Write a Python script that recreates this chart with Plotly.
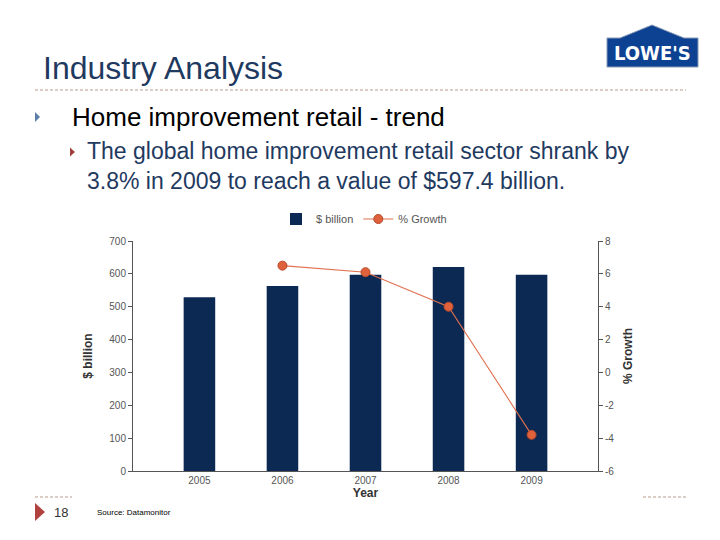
import plotly.graph_objects as go

years = ["2005", "2006", "2007", "2008", "2009"]
value_bn = [528.6, 562.9, 597.3, 621.0, 597.4]
growth_years = ["2006", "2007", "2008", "2009"]
growth_pct = [6.5, 6.1, 4.0, -3.8]
left_ticks = [0, 100, 200, 300, 400, 500, 600, 700]
right_ticks = [-6, -4, -2, 0, 2, 4, 6, 8]
right_labels = [str(v) for v in right_ticks]

OFF = 8  # page body margin
W, H = 720 - OFF, 540 - OFF
ML, MR, MT, MB = 133 - OFF, 122, 241 - OFF, 69
PW, PH = W - ML - MR, H - MT - MB

def px(x):
    return (x - OFF - ML) / PW

def py(y):
    return 1 - (y - OFF - MT) / PH

FONT = "Arial, Liberation Sans, sans-serif"

fig = go.Figure()
fig.add_trace(go.Bar(
    x=years, y=value_bn, name="$ billion", width=0.38,
    marker=dict(color="#0b2953", line=dict(width=0)),
    yaxis="y",
))
fig.add_trace(go.Scatter(
    x=growth_years, y=growth_pct, name="% Growth", mode="lines+markers",
    line=dict(color="#e0714f", width=1.1),
    marker=dict(size=9, color="#e0623c", line=dict(color="#b5482a", width=1)),
    yaxis="y2",
))

axis_common = dict(showgrid=False, zeroline=False, showline=True, linecolor="#555555",
                   linewidth=1, ticks="outside", ticklen=4, tickcolor="#555555",
                   tickfont=dict(family=FONT, size=10, color="#555555"))

fig.update_layout(
    width=W, height=H,
    margin=dict(l=ML, r=MR, t=MT, b=MB),
    paper_bgcolor="white", plot_bgcolor="white",
    showlegend=True,
    legend=dict(orientation="h", x=px(364), xanchor="center", y=py(219), yanchor="middle",
                font=dict(family=FONT, size=11, color="#555555"), bgcolor="rgba(0,0,0,0)",
                itemwidth=30, tracegroupgap=0),
    xaxis=dict(type="category", range=[-0.8, 4.8], showgrid=False, zeroline=False,
               showline=True, linecolor="#555555", ticks="",
               tickfont=dict(family=FONT, size=10, color="#555555"),
               title=dict(text="<b>Year</b>", standoff=2,
                          font=dict(family=FONT, size=12, color="#333333"))),
    yaxis=dict(range=[0, 700], tickvals=left_ticks, **axis_common,
               title=dict(text="<b>$ billion</b>", standoff=14,
                          font=dict(family=FONT, size=12, color="#333333"))),
    yaxis2=dict(range=[-6, 8], tickvals=right_ticks, ticktext=right_labels,
                overlaying="y", side="right", **axis_common,
                title=dict(text="<b>% Growth</b>", standoff=10,
                           font=dict(family=FONT, size=12, color="#333333"))),
)

shapes = []
DASH = dict(color="#b89a8c", width=1, dash="3px,2px")
shapes.append(dict(type="line", xref="paper", yref="paper", x0=px(35), x1=px(686),
                   y0=py(90), y1=py(90), line=DASH))
shapes.append(dict(type="line", xref="paper", yref="paper", x0=px(35), x1=px(72),
                   y0=py(497), y1=py(497), line=DASH))
shapes.append(dict(type="line", xref="paper", yref="paper", x0=px(643), x1=px(686),
                   y0=py(497), y1=py(497), line=DASH))

def tri(x0, ycen, w, h, color):
    path = "M {} {} L {} {} L {} {} Z".format(px(x0), py(ycen - h / 2), px(x0 + w), py(ycen),
                                             px(x0), py(ycen + h / 2))
    return dict(type="path", xref="paper", yref="paper", path=path,
                fillcolor=color, line=dict(width=0))

shapes.append(tri(35, 117, 5, 10, "#5b7fa8"))
shapes.append(tri(70, 152, 5, 9, "#a2423f"))
shapes.append(tri(35, 512, 10, 18, "#b0413e"))

# Lowe's logo
pts = [(607, 67), (607, 38), (620, 38), (652, 25), (684, 38), (698, 38), (698, 67)]
logo_path = "M " + " L ".join("{} {}".format(px(a), py(b)) for a, b in pts) + " Z"
shapes.append(dict(type="path", xref="paper", yref="paper", path=logo_path,
                   fillcolor="#0d4192", line=dict(color="#8a9bb5", width=1)))

fig.update_layout(shapes=shapes)

ann = []
def text(x, y, s, size, color, anchor="left", family=FONT):
    ann.append(dict(xref="paper", yref="paper", x=px(x), y=py(y), text=s, showarrow=False,
                    xanchor=anchor, yanchor="middle",
                    font=dict(family=family, size=size, color=color)))

text(41, 68, "Industry Analysis", 32, "#1f3a60")
text(70, 117, "Home improvement retail - trend", 26, "#000000")
text(85, 151, "The global home improvement retail sector shrank by", 23, "#1f3a5f")
text(85, 181, "3.8% in 2009 to reach a value of $597.4 billion.", 23, "#1f3a5f")
text(52, 512, "18", 13, "#333333")
text(95, 512, "Source: Datamonitor", 8, "#000000")
text(652, 53, "<b>LOWE'S</b>", 20, "#ffffff", anchor="center",
     family="DejaVu Sans Condensed, Liberation Sans Narrow, sans-serif")

fig.update_layout(annotations=ann)

fig.write_html("out.html")
